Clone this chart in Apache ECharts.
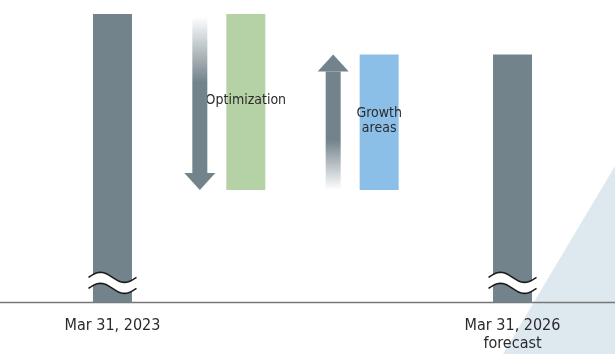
<!DOCTYPE html>
<html>
<head>
<meta charset="utf-8">
<script src="https://cdn.jsdelivr.net/npm/echarts@6.0.0/dist/echarts.min.js"></script>
<style>
    html, body { margin: 0; padding: 0; background: #fff; }
    #chart { width: 615px; height: 354px; }
</style>
</head>
<body>
<div id="chart"></div>
<script>
// 数据
var categories = ['Mar 31, 2023', 'Optimization', 'Growth areas', 'Mar 31, 2026'];
var axisLabels = ['Mar 31, 2023', '', '', 'Mar 31, 2026\nforecast'];
var barBottom = [0, 39, 39, 0];
var barTop = [100, 100, 86, 86];
var barLabels = ['', 'Optimization', 'Growth\nareas', ''];
// 箭头: [category, from, to]
var arrows = [[1, 99, 39], [2, 39, 86]];
// 断轴符号: [category, value]
var breaks = [[0, 6.8], [3, 6.8]];

var gray = '#72838b';
var barColors = [gray, '#b5d1a6', '#8bbfe8', gray];
var font = '"Liberation Sans Narrow", "DejaVu Sans Condensed", sans-serif';

var chart = echarts.init(document.getElementById('chart'));

var baseData = barBottom;
var valueData = barTop.map(function (t, i) {
    return {
        value: t - barBottom[i],
        itemStyle: { color: barColors[i] },
        label: {
            show: barLabels[i] !== '',
            formatter: barLabels[i],
            position: 'inside',
            offset: [0, i === 1 ? -2 : -1],
            color: '#2b2b2b',
            fontSize: 14,
            lineHeight: 15,
            fontFamily: font
        }
    };
});

function renderArrow(params, api) {
    var idx = api.value(0);
    var p1 = api.coord([idx, api.value(1)]);
    var p2 = api.coord([idx, api.value(2)]);
    var x = p1[0] - 46;
    var y1 = p1[1], y2 = p2[1];
    var shaftW = 15, headW = 31, headL = 17;
    var down = y2 > y1;
    var solid = 'rgba(114,131,139,1)';
    var clear = 'rgba(114,131,139,0)';
    var shaft, head, grad;
    if (down) {
        shaft = { x: x - shaftW / 2, y: y1, width: shaftW, height: y2 - headL - y1 };
        head = [[x - headW / 2, y2 - headL], [x + headW / 2, y2 - headL], [x, y2]];
        grad = new echarts.graphic.LinearGradient(0, 0, 0, 1, [
            { offset: 0, color: clear },
            { offset: 0.42, color: solid },
            { offset: 1, color: solid }
        ]);
    } else {
        shaft = { x: x - shaftW / 2, y: y2 + headL, width: shaftW, height: y1 - y2 - headL };
        head = [[x - headW / 2, y2 + headL], [x + headW / 2, y2 + headL], [x, y2]];
        grad = new echarts.graphic.LinearGradient(0, 0, 0, 1, [
            { offset: 0, color: solid },
            { offset: 0.58, color: solid },
            { offset: 1, color: clear }
        ]);
    }
    return {
        type: 'group',
        children: [
            { type: 'rect', shape: shaft, style: { fill: grad } },
            { type: 'polygon', shape: { points: head }, style: { fill: gray } }
        ]
    };
}

function renderBreak(params, api) {
    var c = api.coord([api.value(0), api.value(1)]);
    var half = 24, amp = 5, gap = 5.5, n = 24;
    var upper = [], lower = [];
    for (var i = 0; i <= n; i++) {
        var t = i / n;
        var x = c[0] - half + t * half * 2;
        var s = Math.sin(t * Math.PI * 2) * amp;
        upper.push([x, c[1] - gap - s]);
        lower.push([x, c[1] + gap - s]);
    }
    var band = upper.concat(lower.slice().reverse());
    return {
        type: 'group',
        children: [
            { type: 'polygon', shape: { points: band }, style: { fill: '#fff' } },
            { type: 'polyline', shape: { points: upper }, style: { stroke: '#1a1a1a', lineWidth: 1.6, fill: null } },
            { type: 'polyline', shape: { points: lower }, style: { stroke: '#1a1a1a', lineWidth: 1.6, fill: null } }
        ]
    };
}

var option = {
    animation: false,
    grid: { left: 45.8, right: 35.8, top: 14, bottom: 51.5 },
    xAxis: {
        type: 'category',
        data: categories,
        axisLine: { show: false },
        axisTick: { show: false },
        axisLabel: {
            margin: 14,
            color: '#2b2b2b',
            fontSize: 16,
            lineHeight: 18,
            fontFamily: font,
            formatter: function (v, i) { return axisLabels[i]; }
        }
    },
    yAxis: {
        type: 'value',
        min: 0,
        max: 100,
        show: false
    },
    graphic: [
        {
            type: 'polygon',
            z: 0,
            shape: { points: [[615, 166], [615, 354], [503, 354]] },
            style: { fill: '#dde9ef' }
        },
        {
            type: 'line',
            z: 1,
            shape: { x1: 0, y1: 302.5, x2: 615, y2: 302.5 },
            style: { stroke: '#777', lineWidth: 1.5 }
        }
    ],
    series: [
        {
            name: 'base',
            type: 'bar',
            stack: 'w',
            barWidth: 39,
            itemStyle: { color: 'transparent' },
            data: baseData
        },
        {
            name: 'value',
            type: 'bar',
            stack: 'w',
            barWidth: 39,
            z: 3,
            data: valueData
        },
        {
            name: 'arrow',
            type: 'custom',
            renderItem: renderArrow,
            z: 4,
            data: arrows
        },
        {
            name: 'break',
            type: 'custom',
            renderItem: renderBreak,
            z: 5,
            data: breaks
        }
    ]
};
chart.setOption(option);
</script>
</body>
</html>
